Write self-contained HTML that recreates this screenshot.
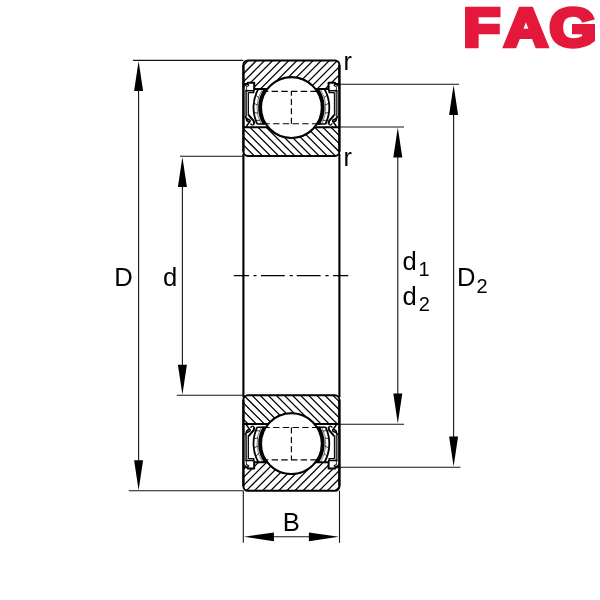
<!DOCTYPE html><html><head><meta charset="utf-8"><title>FAG bearing drawing</title><style>html,body{margin:0;padding:0;background:#fff}svg{display:block;will-change:transform}</style></head><body><svg width="600" height="600" viewBox="0 0 600 600"><rect width="600" height="600" fill="#fff"/><defs><clipPath id="co"><path d="M247.9 60.4H334.9A4.5 4.5 0 0 1 339.4 64.9V83.9H335.6L335 82.7H328.6V88.9H315.28A30.3 30.3 0 0 0 267.52 88.9H254.2V82.7H247.8L247.2 83.9H243.4V64.9A4.5 4.5 0 0 1 247.9 60.4Z"/></clipPath><clipPath id="ci"><path d="M243.4 127.3H268.42A30.3 30.3 0 0 0 314.38 127.3H339.4V151.4A4.5 4.5 0 0 1 334.9 155.9H247.9A4.5 4.5 0 0 1 243.4 151.4Z"/></clipPath></defs><g stroke="#000" stroke-width="1.25" fill="none"><path clip-path="url(#co)" d="M237.7 55L197.7 95M245.8 55L205.8 95M253.9 55L213.9 95M262 55L222 95M270.1 55L230.1 95M278.2 55L238.2 95M286.3 55L246.3 95M294.4 55L254.4 95M302.5 55L262.5 95M310.6 55L270.6 95M318.7 55L278.7 95M326.8 55L286.8 95M334.9 55L294.9 95M343 55L303 95M351.1 55L311.1 95M359.2 55L319.2 95M367.3 55L327.3 95M375.4 55L335.4 95M383.5 55L343.5 95M391.6 55L351.6 95M399.7 55L359.7 95M407.8 55L367.8 95"/><path clip-path="url(#ci)" d="M194.1 120L234.1 160M202.2 120L242.2 160M210.3 120L250.3 160M218.4 120L258.4 160M226.5 120L266.5 160M234.6 120L274.6 160M242.7 120L282.7 160M250.8 120L290.8 160M258.9 120L298.9 160M267 120L307 160M275.1 120L315.1 160M283.2 120L323.2 160M291.3 120L331.3 160M299.4 120L339.4 160M307.5 120L347.5 160M315.6 120L355.6 160M323.7 120L363.7 160M331.8 120L371.8 160M339.9 120L379.9 160M348 120L388 160M356.1 120L396.1 160M364.2 120L404.2 160"/></g><g fill="none" stroke="#000" stroke-linejoin="round"><path d="M247.9 60.4H334.9A4.5 4.5 0 0 1 339.4 64.9V83.9H335.6L335 82.7H328.6V88.9H315.28A30.3 30.3 0 0 0 267.52 88.9H254.2V82.7H247.8L247.2 83.9H243.4V64.9A4.5 4.5 0 0 1 247.9 60.4Z" stroke-width="2"/><path d="M243.4 127.3H268.42A30.3 30.3 0 0 0 314.38 127.3H339.4V151.4A4.5 4.5 0 0 1 334.9 155.9H247.9A4.5 4.5 0 0 1 243.4 151.4Z" stroke-width="2"/><path d="M243.4 64.9V151.4M339.4 64.9V151.4" stroke-width="2.1"/><path d="M243.4 83.9V127.3M339.4 83.9V127.3" stroke-width="2.0"/><circle cx="291.4" cy="107.55" r="30.3" stroke-width="1.9" fill="#fff"/><path d="M263.9 91.4H318.9M265.4 123.7H317.4" stroke-width="1.15" stroke-dasharray="6.4 3.3" stroke-dashoffset="2"/><path d="M291.4 91.4V123.7" stroke-width="1.15" stroke-dasharray="4.3 3.3 6 3.3 6 3.4 6"/><path d="M258.41 88.9A37.9 37.9 0 0 0 257.26 124" stroke-width="1.8"/><path d="M262.49 88.9A34.4 34.4 0 0 0 261.19 124" stroke-width="0.5"/><path d="M265.52 88.9A31.9 31.9 0 0 0 264.07 124" stroke-width="2.7"/><path d="M257.26 124H266.35" stroke-width="1.5"/><path d="M263.93 88.9H267.52L264.06 91.9Z" fill="#000" stroke-width="0.6"/><path d="M262.56 124H265.95L262.92 121Z" fill="#000" stroke-width="0.6"/><path d="M259.04 97.78L255.85 95.31" stroke-width="0.75"/><path d="M257.7 105.02L254.04 103.29" stroke-width="0.75"/><path d="M258.08 113.24L254.12 112.46" stroke-width="0.75"/><path d="M260.11 120.32L256.07 120.41" stroke-width="0.75"/><path d="M324.39 88.9A37.9 37.9 0 0 1 325.54 124" stroke-width="1.8"/><path d="M320.31 88.9A34.4 34.4 0 0 1 321.61 124" stroke-width="0.5"/><path d="M317.28 88.9A31.9 31.9 0 0 1 318.73 124" stroke-width="2.7"/><path d="M325.54 124H316.45" stroke-width="1.5"/><path d="M318.87 88.9H315.28L318.74 91.9Z" fill="#000" stroke-width="0.6"/><path d="M320.24 124H316.85L319.88 121Z" fill="#000" stroke-width="0.6"/><path d="M323.76 97.78L326.95 95.31" stroke-width="0.75"/><path d="M325.1 105.02L328.76 103.29" stroke-width="0.75"/><path d="M324.72 113.24L328.68 112.46" stroke-width="0.75"/><path d="M322.69 120.32L326.73 120.41" stroke-width="0.75"/><path d="M245.2 90.5L245.2 116.2L247.3 116.2L247.3 90.5Z" fill="#3a3a3a" stroke="none"/><path d="M248.4 92.5V115.2" stroke-width="1.1"/><path d="M245.3 90.7H254.1" stroke-width="1.5"/><path d="M248.4 92.6H253.7V90.7" stroke-width="1.4"/><path d="M254.1 88.9V91" stroke-width="1.5"/><path d="M244.2 86.6L245.6 85.2L247.6 84L248.8 85.2L248 85.9L246.3 86.6" stroke-width="1.1"/><path d="M246.4 86.6V90.4" stroke-width="0.8"/><path d="M248.6 115L253.8 121.2L254.2 124.2" stroke-width="2"/><path d="M254.2 124.2C252.6 125.6 250.6 125 250.8 123.2" stroke-width="1.2"/><path d="M245.4 116C245.4 118 246.6 118.8 248.6 119.4C250 119.8 250.6 120.8 249.8 121.6" stroke-width="1.6"/><path d="M246.2 118.6C246.4 120.6 247.6 121.6 249.6 122C248.6 123.2 247.4 124.8 246.4 126.6" stroke-width="1.5"/><path d="M337.6 90.5L337.6 116.2L335.5 116.2L335.5 90.5Z" fill="#3a3a3a" stroke="none"/><path d="M334.4 92.5V115.2" stroke-width="1.1"/><path d="M337.5 90.7H328.7" stroke-width="1.5"/><path d="M334.4 92.6H329.1V90.7" stroke-width="1.4"/><path d="M328.7 88.9V91" stroke-width="1.5"/><path d="M338.6 86.6L337.2 85.2L335.2 84L334 85.2L334.8 85.9L336.5 86.6" stroke-width="1.1"/><path d="M336.4 86.6V90.4" stroke-width="0.8"/><path d="M334.2 115L329 121.2L328.6 124.2" stroke-width="2"/><path d="M328.6 124.2C330.2 125.6 332.2 125 332 123.2" stroke-width="1.2"/><path d="M337.4 116C337.4 118 336.2 118.8 334.2 119.4C332.8 119.8 332.2 120.8 333 121.6" stroke-width="1.6"/><path d="M336.6 118.6C336.4 120.6 335.2 121.6 333.2 122C334.2 123.2 335.4 124.8 336.4 126.6" stroke-width="1.5"/></g><g transform="translate(0 551.2) scale(1 -1)"><g stroke="#000" stroke-width="1.25" fill="none"><path clip-path="url(#co)" d="M192.2 55L232.2 95M200.3 55L240.3 95M208.4 55L248.4 95M216.5 55L256.5 95M224.6 55L264.6 95M232.7 55L272.7 95M240.8 55L280.8 95M248.9 55L288.9 95M257 55L297 95M265.1 55L305.1 95M273.2 55L313.2 95M281.3 55L321.3 95M289.4 55L329.4 95M297.5 55L337.5 95M305.6 55L345.6 95M313.7 55L353.7 95M321.8 55L361.8 95M329.9 55L369.9 95M338 55L378 95M346.1 55L386.1 95M354.2 55L394.2 95M362.3 55L402.3 95"/><path clip-path="url(#ci)" d="M239.2 120L199.2 160M247.3 120L207.3 160M255.4 120L215.4 160M263.5 120L223.5 160M271.6 120L231.6 160M279.7 120L239.7 160M287.8 120L247.8 160M295.9 120L255.9 160M304 120L264 160M312.1 120L272.1 160M320.2 120L280.2 160M328.3 120L288.3 160M336.4 120L296.4 160M344.5 120L304.5 160M352.6 120L312.6 160M360.7 120L320.7 160M368.8 120L328.8 160M376.9 120L336.9 160M385 120L345 160M393.1 120L353.1 160M401.2 120L361.2 160M409.3 120L369.3 160"/></g><g fill="none" stroke="#000" stroke-linejoin="round"><path d="M247.9 60.4H334.9A4.5 4.5 0 0 1 339.4 64.9V83.9H335.6L335 82.7H328.6V88.9H315.28A30.3 30.3 0 0 0 267.52 88.9H254.2V82.7H247.8L247.2 83.9H243.4V64.9A4.5 4.5 0 0 1 247.9 60.4Z" stroke-width="2"/><path d="M243.4 127.3H268.42A30.3 30.3 0 0 0 314.38 127.3H339.4V151.4A4.5 4.5 0 0 1 334.9 155.9H247.9A4.5 4.5 0 0 1 243.4 151.4Z" stroke-width="2"/><path d="M243.4 64.9V151.4M339.4 64.9V151.4" stroke-width="2.1"/><path d="M243.4 83.9V127.3M339.4 83.9V127.3" stroke-width="2.0"/><circle cx="291.4" cy="107.55" r="30.3" stroke-width="1.9" fill="#fff"/><path d="M263.9 91.4H318.9M265.4 123.7H317.4" stroke-width="1.15" stroke-dasharray="6.4 3.3" stroke-dashoffset="2"/><path d="M291.4 91.4V123.7" stroke-width="1.15" stroke-dasharray="4.3 3.3 6 3.3 6 3.4 6"/><path d="M258.41 88.9A37.9 37.9 0 0 0 257.26 124" stroke-width="1.8"/><path d="M262.49 88.9A34.4 34.4 0 0 0 261.19 124" stroke-width="0.5"/><path d="M265.52 88.9A31.9 31.9 0 0 0 264.07 124" stroke-width="2.7"/><path d="M257.26 124H266.35" stroke-width="1.5"/><path d="M263.93 88.9H267.52L264.06 91.9Z" fill="#000" stroke-width="0.6"/><path d="M262.56 124H265.95L262.92 121Z" fill="#000" stroke-width="0.6"/><path d="M259.04 97.78L255.85 95.31" stroke-width="0.75"/><path d="M257.7 105.02L254.04 103.29" stroke-width="0.75"/><path d="M258.08 113.24L254.12 112.46" stroke-width="0.75"/><path d="M260.11 120.32L256.07 120.41" stroke-width="0.75"/><path d="M324.39 88.9A37.9 37.9 0 0 1 325.54 124" stroke-width="1.8"/><path d="M320.31 88.9A34.4 34.4 0 0 1 321.61 124" stroke-width="0.5"/><path d="M317.28 88.9A31.9 31.9 0 0 1 318.73 124" stroke-width="2.7"/><path d="M325.54 124H316.45" stroke-width="1.5"/><path d="M318.87 88.9H315.28L318.74 91.9Z" fill="#000" stroke-width="0.6"/><path d="M320.24 124H316.85L319.88 121Z" fill="#000" stroke-width="0.6"/><path d="M323.76 97.78L326.95 95.31" stroke-width="0.75"/><path d="M325.1 105.02L328.76 103.29" stroke-width="0.75"/><path d="M324.72 113.24L328.68 112.46" stroke-width="0.75"/><path d="M322.69 120.32L326.73 120.41" stroke-width="0.75"/><path d="M245.2 90.5L245.2 116.2L247.3 116.2L247.3 90.5Z" fill="#3a3a3a" stroke="none"/><path d="M248.4 92.5V115.2" stroke-width="1.1"/><path d="M245.3 90.7H254.1" stroke-width="1.5"/><path d="M248.4 92.6H253.7V90.7" stroke-width="1.4"/><path d="M254.1 88.9V91" stroke-width="1.5"/><path d="M244.2 86.6L245.6 85.2L247.6 84L248.8 85.2L248 85.9L246.3 86.6" stroke-width="1.1"/><path d="M246.4 86.6V90.4" stroke-width="0.8"/><path d="M248.6 115L253.8 121.2L254.2 124.2" stroke-width="2"/><path d="M254.2 124.2C252.6 125.6 250.6 125 250.8 123.2" stroke-width="1.2"/><path d="M245.4 116C245.4 118 246.6 118.8 248.6 119.4C250 119.8 250.6 120.8 249.8 121.6" stroke-width="1.6"/><path d="M246.2 118.6C246.4 120.6 247.6 121.6 249.6 122C248.6 123.2 247.4 124.8 246.4 126.6" stroke-width="1.5"/><path d="M337.6 90.5L337.6 116.2L335.5 116.2L335.5 90.5Z" fill="#3a3a3a" stroke="none"/><path d="M334.4 92.5V115.2" stroke-width="1.1"/><path d="M337.5 90.7H328.7" stroke-width="1.5"/><path d="M334.4 92.6H329.1V90.7" stroke-width="1.4"/><path d="M328.7 88.9V91" stroke-width="1.5"/><path d="M338.6 86.6L337.2 85.2L335.2 84L334 85.2L334.8 85.9L336.5 86.6" stroke-width="1.1"/><path d="M336.4 86.6V90.4" stroke-width="0.8"/><path d="M334.2 115L329 121.2L328.6 124.2" stroke-width="2"/><path d="M328.6 124.2C330.2 125.6 332.2 125 332 123.2" stroke-width="1.2"/><path d="M337.4 116C337.4 118 336.2 118.8 334.2 119.4C332.8 119.8 332.2 120.8 333 121.6" stroke-width="1.6"/><path d="M336.6 118.6C336.4 120.6 335.2 121.6 333.2 122C334.2 123.2 335.4 124.8 336.4 126.6" stroke-width="1.5"/></g></g><g stroke="#000" fill="none"><path d="M243.4 153.9V397.3M339.4 153.9V397.3" stroke-width="2.1"/><path d="M233.8 275.6H349" stroke-width="1.1" stroke-dasharray="15.2 4.5 3 4.5 23.8 4.8 3.2 4 23.8 4.8 3.2 4.5 15.2"/><g stroke-width="1.1" stroke="#151515"><path d="M132.9 60.4H243.4M128.8 490.8H243.4M138.6 80.4V470.8"/><path d="M180 156.3H243.4M176.8 395.3H243.4M182.4 176V375"/><path d="M339.4 127H404M339.4 424.2H404M397.8 147V404.2"/><path d="M339.4 84.3H459M339.4 467.2H460.4M453.6 104V447"/><path d="M243.3 490.8V542.8M339.5 490.8V542.8M270 536.8H312"/></g></g><path d="M138.6 61L134.1 91H143.1ZM138.6 490.2L134.1 460.2H143.1ZM182.4 156.9L177.9 186.9H186.9ZM182.4 394.7L177.9 364.7H186.9ZM397.8 127.6L393.3 157.6H402.3ZM397.8 423.6L393.3 393.6H402.3ZM453.6 84.9L449.1 114.9H458.1ZM453.6 466.6L449.1 436.6H458.1ZM243.9 536.8L273.9 532.4V541.2ZM338.9 536.8L308.9 532.4V541.2Z" fill="#000"/><g font-family="'Liberation Sans', Arial, sans-serif" font-size="25.6" fill="#000"><text x="114.2" y="286">D</text><text x="163" y="286">d</text><text x="343.4" y="70.2" font-size="25.2">r</text><text x="343.4" y="166" font-size="25.2">r</text><text x="402.6" y="269.5">d<tspan font-size="20" dx="1.7" dy="6.3">1</tspan></text><text x="402.6" y="304.5">d<tspan font-size="20" dx="1.8" dy="6.6">2</tspan></text><text x="457" y="286">D<tspan font-size="20" dx="1" dy="6.8">2</tspan></text><text x="282.8" y="530.5">B</text></g><text transform="translate(0 46.2) scale(1.13 1)" x="410.24 446.3 486.4" font-family="'Liberation Sans', Arial, sans-serif" font-weight="bold" font-size="53.2" fill="#e3183a" stroke="#e3183a" stroke-width="4.4" stroke-linejoin="miter" stroke-miterlimit="2.5">FAG</text></svg></body></html>
